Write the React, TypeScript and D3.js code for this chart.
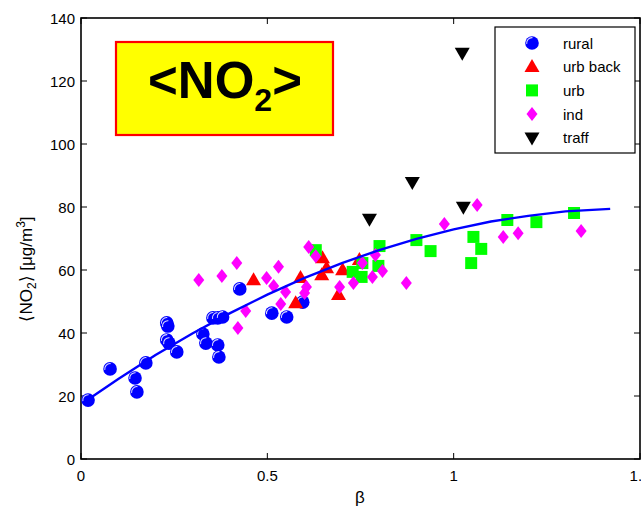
import React from "react";
import * as d3 from "d3";

// β and mean NO2 (µg/m³) for each station class
const ruralBeta = [0.019, 0.078, 0.145, 0.15, 0.174, 0.23, 0.233, 0.23, 0.236, 0.257, 0.327, 0.335, 0.367, 0.37, 0.354, 0.367, 0.38, 0.426, 0.512, 0.552, 0.595];
const ruralNO2 = [18.7, 28.6, 25.7, 21.3, 30.5, 43.2, 42.2, 37.8, 36.8, 34.0, 39.7, 36.8, 36.2, 32.4, 44.8, 44.8, 45.1, 54.0, 46.3, 45.1, 49.8];

const urbBackBeta = [0.463, 0.589, 0.576, 0.648, 0.659, 0.646, 0.702, 0.691, 0.747];
const urbBackNO2 = [56.8, 57.5, 49.5, 63.8, 60.6, 58.4, 60.0, 52.1, 63.2];

const urbBeta = [0.63, 0.801, 0.798, 0.729, 0.753, 0.755, 0.9, 0.938, 1.053, 1.074, 1.047, 1.144, 1.222, 1.323];
const urbNO2 = [66.3, 67.6, 61.3, 59.4, 57.8, 62.2, 69.5, 66.0, 70.5, 66.7, 62.2, 75.9, 75.2, 78.1];

const indBeta = [0.316, 0.378, 0.418, 0.442, 0.421, 0.498, 0.53, 0.517, 0.549, 0.536, 0.605, 0.6, 0.611, 0.63, 0.694, 0.731, 0.755, 0.79, 0.782, 0.809, 0.873, 0.975, 1.063, 1.133, 1.173, 1.342];
const indNO2 = [56.8, 58.1, 62.2, 47.0, 41.6, 57.5, 61.0, 54.9, 53.0, 49.2, 54.6, 52.7, 67.3, 64.4, 54.6, 55.9, 62.2, 64.8, 57.8, 59.7, 55.9, 74.6, 80.6, 70.5, 71.7, 72.4];

const traffBeta = [0.774, 0.889, 1.026, 1.023];
const traffNO2 = [76.2, 87.9, 80.0, 128.9];

// fitted curve
const fitBeta = [0.02, 0.1, 0.2, 0.3, 0.4, 0.5, 0.6, 0.7, 0.8, 0.9, 1.0, 1.1, 1.2, 1.3, 1.42];
const fitNO2 = [19.0, 25.4, 33.0, 39.9, 46.3, 52.2, 57.5, 62.2, 66.3, 69.9, 72.9, 75.4, 77.2, 78.6, 79.4];

const xTicks = [0, 0.5, 1, 1.5];
const xTickLabels = ["0", "0.5", "1", "1.5"];
const yTicks = [0, 20, 40, 60, 80, 100, 120, 140];

const seriesNames = ["rural", "urb back", "urb", "ind", "traff"];
const seriesColors = ["#0000ff", "#ff0000", "#00ff00", "#ff00ff", "#000000"];
const seriesShapes = ["circle", "triUp", "square", "diamond", "triDown"];

const W = 641;
const H = 506;
const L = 81, R = 640, T = 18, B = 459;

const x = d3.scaleLinear().domain([0, 1.5]).range([L, R]);
const y = d3.scaleLinear().domain([0, 140]).range([B, T]);

const FONT = "'Liberation Sans', Arial, Helvetica, sans-serif";

function shapePath(shape: string, cx: number, cy: number): string {
  const p = d3.path();
  if (shape === "triUp") {
    const w = 7.5, h = 13;
    p.moveTo(cx, cy - h * 0.6);
    p.lineTo(cx + w, cy + h * 0.4);
    p.lineTo(cx - w, cy + h * 0.4);
    p.closePath();
  } else if (shape === "triDown") {
    const w = 7.5, h = 13;
    p.moveTo(cx - w, cy - h * 0.4);
    p.lineTo(cx + w, cy - h * 0.4);
    p.lineTo(cx, cy + h * 0.6);
    p.closePath();
  } else if (shape === "square") {
    p.rect(cx - 6, cy - 6, 12, 12);
  } else if (shape === "diamond") {
    p.moveTo(cx, cy - 7);
    p.lineTo(cx + 5.5, cy);
    p.lineTo(cx, cy + 7);
    p.lineTo(cx - 5.5, cy);
    p.closePath();
  }
  return p.toString();
}

function Marker({ shape, color, cx, cy }: { shape: string; color: string; cx: number; cy: number }) {
  if (shape === "circle") {
    const r = 6.8;
    const hl = d3.arc()({ innerRadius: r - 2.0, outerRadius: r - 0.9, startAngle: -1.75, endAngle: 0.1 }) as string;
    return (
      <g transform={`translate(${cx},${cy})`}>
        <circle r={r} fill={color} />
        <path d={hl} fill="#ffffff" opacity={0.85} />
      </g>
    );
  }
  return <path d={shapePath(shape, cx, cy)} fill={color} />;
}

export default function App() {
  const series = [
    { beta: ruralBeta, vals: ruralNO2 },
    { beta: urbBackBeta, vals: urbBackNO2 },
    { beta: urbBeta, vals: urbNO2 },
    { beta: indBeta, vals: indNO2 },
    { beta: traffBeta, vals: traffNO2 },
  ];

  const line = d3
    .line<number>()
    .x((_, i) => x(fitBeta[i]))
    .y((d) => y(d));

  const tickLen = 6;

  return (
    <svg
      width={W}
      height={H}
      style={{ position: "absolute", left: 0, top: 0, background: "#ffffff" }}
      fontFamily={FONT}
    >
      <rect x={0} y={0} width={W} height={H} fill="#ffffff" />

      {/* axis frame */}
      <rect x={L} y={T} width={R - L} height={B - T} fill="#ffffff" stroke="#000" strokeWidth={1.6} />

      {/* ticks on all four sides */}
      {xTicks.map((t, i) => (
        <g key={"xt" + i}>
          <line x1={x(t)} x2={x(t)} y1={B} y2={B - tickLen} stroke="#000" strokeWidth={1} />
          <line x1={x(t)} x2={x(t)} y1={T} y2={T + tickLen} stroke="#000" strokeWidth={1} />
          <text x={x(t)} y={481} fontSize={15} textAnchor="middle" fill="#000">
            {xTickLabels[i]}
          </text>
        </g>
      ))}
      {yTicks.map((t) => (
        <g key={"yt" + t}>
          <line x1={L} x2={L + tickLen} y1={y(t)} y2={y(t)} stroke="#000" strokeWidth={1} />
          <line x1={R} x2={R - tickLen} y1={y(t)} y2={y(t)} stroke="#000" strokeWidth={1} />
          <text x={75} y={y(t) + 5.5} fontSize={15} textAnchor="end" fill="#000">
            {t}
          </text>
        </g>
      ))}

      {/* axis labels */}
      <text x={360} y={503} fontSize={17} textAnchor="middle" fill="#000">β</text>
      <text transform="translate(32,269) rotate(-90)" fontSize={17} textAnchor="middle" fill="#000">
        ⟨NO<tspan fontSize={12} dy={4}>2</tspan>
        <tspan dy={-4}>⟩ [μg/m</tspan>
        <tspan fontSize={12} dy={-7}>3</tspan>
        <tspan dy={7}>]</tspan>
      </text>

      {/* data markers */}
      {series.map((s, si) =>
        s.beta.map((b, i) => (
          <Marker key={si + "-" + i} shape={seriesShapes[si]} color={seriesColors[si]} cx={x(b)} cy={y(s.vals[i])} />
        ))
      )}

      {/* fitted curve */}
      <path d={line(fitNO2) as string} fill="none" stroke="#0000ff" strokeWidth={2.4} />

      {/* title box */}
      <rect x={116} y={42} width={217} height={93} fill="#ffff00" stroke="#ff0000" strokeWidth={2.2} />
      <text x={225} y={98} fontSize={51} fontWeight="bold" textAnchor="middle" fill="#000">
        {"<NO"}
        <tspan fontSize={32} dy={13}>2</tspan>
        <tspan dy={-13}>{">"}</tspan>
      </text>

      {/* legend */}
      <rect x={495} y={27} width={140} height={126} fill="#ffffff" stroke="#000" strokeWidth={1.2} />
      {seriesNames.map((name, i) => {
        const ly = 43 + i * 23.7;
        return (
          <g key={"lg" + i}>
            <Marker shape={seriesShapes[i]} color={seriesColors[i]} cx={532} cy={ly} />
            <text x={563} y={ly + 5.5} fontSize={15} fill="#000">
              {name}
            </text>
          </g>
        );
      })}
    </svg>
  );
}
